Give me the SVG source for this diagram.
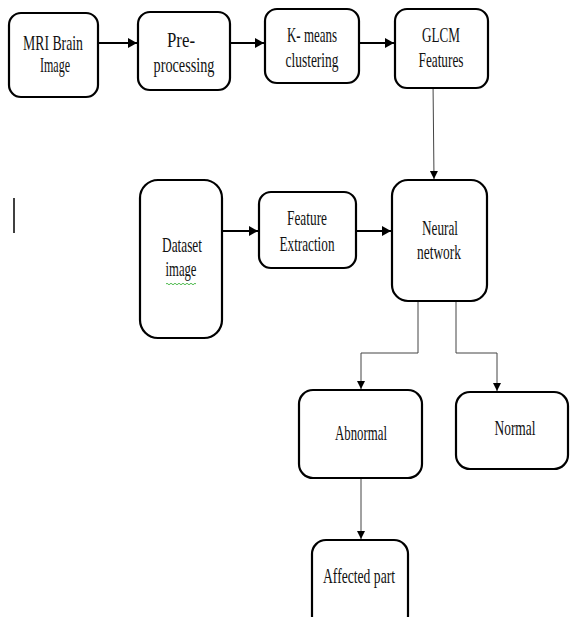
<svg xmlns="http://www.w3.org/2000/svg" width="573" height="617" viewBox="0 0 573 617">
<style>
.box{fill:#fff;stroke:#000;stroke-width:2.2}
.t{font-family:"Liberation Serif","Times New Roman",serif;font-size:21px;fill:#111;text-anchor:middle}
.thick{stroke:#000;stroke-width:2;fill:none}
.thin{stroke:#444;stroke-width:1;fill:none}
</style>
<defs>
<marker id="ah" markerUnits="userSpaceOnUse" markerWidth="10" markerHeight="12" refX="9" refY="6" orient="auto">
<path d="M0,1 L9,6 L0,11 Z" fill="#000"/>
</marker>
<marker id="as" markerUnits="userSpaceOnUse" markerWidth="9" markerHeight="10" refX="8" refY="5" orient="auto">
<path d="M0,1 L8,5 L0,9 Z" fill="#000"/>
</marker>
</defs>
<rect width="573" height="617" fill="#fff"/>
<line x1="14" y1="198" x2="14" y2="233" stroke="#000" stroke-width="1.5"/>
<g id="connectors">
<path class="thick" d="M98,43 H137" marker-end="url(#ah)"/>
<path class="thick" d="M230,43 H264" marker-end="url(#ah)"/>
<path class="thick" d="M357,43 H394" marker-end="url(#ah)"/>
<path class="thin" d="M433,82 L434,179" marker-end="url(#as)"/>
<path class="thick" d="M222,231 H258" marker-end="url(#ah)"/>
<path class="thick" d="M356,231 H391" marker-end="url(#ah)"/>
<path class="thin" d="M418,301 V353 H361 V389" marker-end="url(#as)"/>
<path class="thin" d="M456,301 V353 H497 V391" marker-end="url(#as)"/>
<path class="thin" d="M361,478 V539" marker-end="url(#as)"/>
</g>
<g id="mri">
<rect class="box" x="9" y="13" width="89" height="84" rx="12"/>
<text class="t" x="53" y="50" textLength="60" lengthAdjust="spacingAndGlyphs">MRI Brain</text>
<text class="t" x="55" y="72" textLength="30" lengthAdjust="spacingAndGlyphs">Image</text>
</g>
<g id="pre">
<rect class="box" x="138" y="12" width="92" height="78" rx="12"/>
<text class="t" x="181" y="47" textLength="28" lengthAdjust="spacingAndGlyphs">Pre-</text>
<text class="t" x="184" y="72" textLength="61" lengthAdjust="spacingAndGlyphs">processing</text>
</g>
<g id="kmeans">
<rect class="box" x="265" y="9" width="94" height="74" rx="12"/>
<text class="t" x="312" y="42" textLength="50" lengthAdjust="spacingAndGlyphs">K- means</text>
<text class="t" x="312" y="67" textLength="53" lengthAdjust="spacingAndGlyphs">clustering</text>
</g>
<g id="glcm">
<rect class="box" x="395" y="9" width="93" height="79" rx="12"/>
<text class="t" x="441" y="42" textLength="38" lengthAdjust="spacingAndGlyphs">GLCM</text>
<text class="t" x="441" y="67" textLength="45" lengthAdjust="spacingAndGlyphs">Features</text>
</g>
<g id="dataset">
<rect class="box" x="140" y="180" width="82" height="158" rx="18"/>
<text class="t" x="182" y="252" textLength="40" lengthAdjust="spacingAndGlyphs">Dataset</text>
<text class="t" x="181" y="276" textLength="31" lengthAdjust="spacingAndGlyphs">image</text>
<path d="M166,284 q1,-1.5 2,0 t2,0 t2,0 t2,0 t2,0 t2,0 t2,0 t2,0 t2,0 t2,0 t2,0 t2,0 t2,0 t2,0 t2,0" fill="none" stroke="#2a2" stroke-width="0.8"/>
</g>
<g id="fe">
<rect class="box" x="259" y="192" width="97" height="76" rx="12"/>
<text class="t" x="307" y="225" textLength="40" lengthAdjust="spacingAndGlyphs">Feature</text>
<text class="t" x="307" y="251" textLength="55" lengthAdjust="spacingAndGlyphs">Extraction</text>
</g>
<g id="nn">
<rect class="box" x="392" y="180" width="95" height="121" rx="16"/>
<text class="t" x="440" y="235" textLength="36" lengthAdjust="spacingAndGlyphs">Neural</text>
<text class="t" x="439" y="259" textLength="44" lengthAdjust="spacingAndGlyphs">network</text>
</g>
<g id="abnormal">
<rect class="box" x="299" y="390" width="123" height="88" rx="14"/>
<text class="t" x="361" y="440" textLength="52" lengthAdjust="spacingAndGlyphs">Abnormal</text>
</g>
<g id="normal">
<rect class="box" x="456" y="392" width="112" height="77" rx="14"/>
<text class="t" x="515" y="435" textLength="41" lengthAdjust="spacingAndGlyphs">Normal</text>
</g>
<g id="affected">
<rect class="box" x="312" y="540" width="96" height="90" rx="14"/>
<text class="t" x="359" y="583" textLength="72" lengthAdjust="spacingAndGlyphs">Affected part</text>
</g>
</svg>
